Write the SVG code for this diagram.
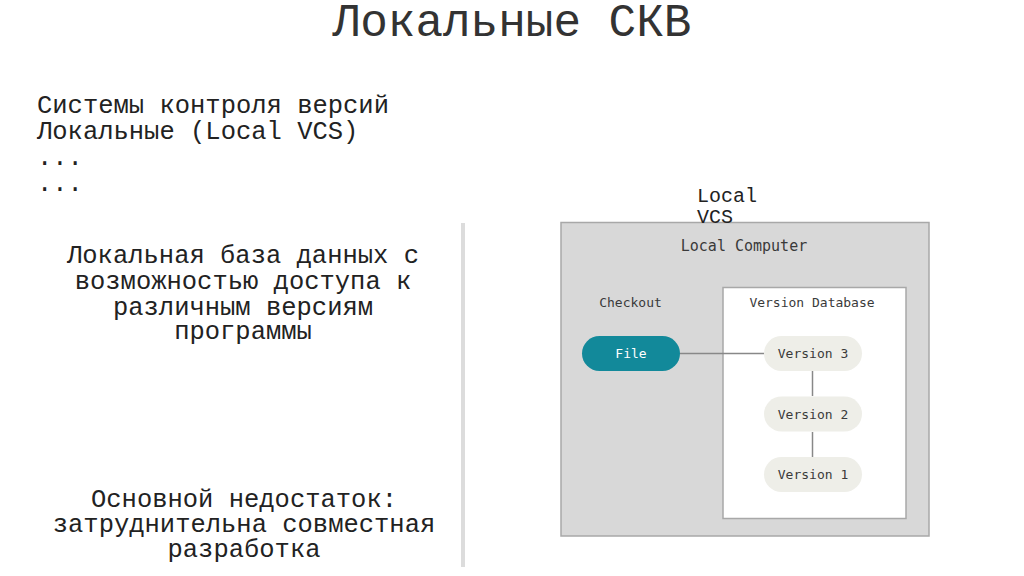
<svg xmlns="http://www.w3.org/2000/svg" width="1024" height="576" viewBox="0 0 1024 576">
<style>
.cour{font-family:"Liberation Mono","Courier New",monospace;fill:#222}
.mono{font-family:"DejaVu Sans Mono","Liberation Mono",monospace;fill:#3a3a3a;text-anchor:middle}
.pill{fill:#eeeee8}
.conn{stroke:#888;stroke-width:1.5;fill:none}
</style>
<rect width="1024" height="576" fill="#fff"/>
<g id="title"><text class="cour" x="512" y="36" font-size="46" text-anchor="middle" style="fill:#333">Локальные СКВ</text></g>
<g id="list" class="cour" font-size="25.5">
<text x="37" y="113">Системы контроля версий</text>
<text x="37" y="139">Локальные (Local VCS)</text>
<text x="37" y="165">...</text>
<text x="37" y="191">...</text>
</g>
<g id="desc" class="cour" font-size="25.5" text-anchor="middle">
<text x="243" y="263">Локальная база данных с</text>
<text x="243" y="289">возможностью доступа к</text>
<text x="243" y="315">различным версиям</text>
<text x="243" y="339">программы</text>
</g>
<g id="drawback" class="cour" font-size="25.5" text-anchor="middle">
<text x="244" y="507">Основной недостаток:</text>
<text x="244" y="532">затруднительна совместная</text>
<text x="244" y="557">разработка</text>
</g>
<g id="divider"><rect x="461" y="223" width="4" height="344" fill="#dcdcdc"/></g>
<g id="local-computer">
<rect x="561" y="222.5" width="368" height="313.5" fill="#d8d8d8" stroke="#a8a8a8" stroke-width="1.5"/>
<text class="mono" x="744" y="251" font-size="15">Local Computer</text>
<text class="mono" x="630.5" y="307" font-size="13">Checkout</text>
</g>
<g id="version-database">
<rect x="723" y="287.5" width="183" height="231" fill="#fff" stroke="#a8a8a8" stroke-width="1.5"/>
<text class="mono" x="812" y="307" font-size="13">Version Database</text>
</g>
<g id="connectors">
<line class="conn" x1="680" y1="353.5" x2="764" y2="353.5"/>
<line class="conn" x1="812.5" y1="371" x2="812.5" y2="396"/>
<line class="conn" x1="812.5" y1="432" x2="812.5" y2="457"/>
</g>
<g id="file">
<rect x="582" y="336" width="98" height="35" rx="17.5" fill="#12899a"/>
<text class="mono" x="631" y="358" font-size="13" style="fill:#fff">File</text>
</g>
<g id="v3">
<rect class="pill" x="764" y="336" width="98" height="35" rx="17.5"/>
<text class="mono" x="813" y="358" font-size="13">Version 3</text>
</g>
<g id="v2">
<rect class="pill" x="764" y="396.5" width="98" height="35" rx="17.5"/>
<text class="mono" x="813" y="418.5" font-size="13">Version 2</text>
</g>
<g id="v1">
<rect class="pill" x="764" y="457" width="98" height="35" rx="17.5"/>
<text class="mono" x="813" y="479" font-size="13">Version 1</text>
</g>
<g id="label-local-vcs" class="cour" font-size="20">
<text x="697" y="202">Local</text>
<text x="697" y="223">VCS</text>
</g>
</svg>
